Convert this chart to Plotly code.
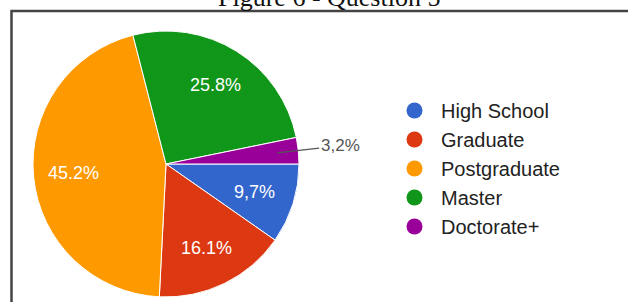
import math
import plotly.graph_objects as go

W, H = 628, 302

categories = ["High School", "Graduate", "Postgraduate", "Master", "Doctorate+"]
values = [9.7, 16.1, 45.2, 25.8, 3.2]
value_labels = ["9,7%", "16.1%", "45.2%", "25.8%", "3,2%"]
colors = ["#3366CC", "#DC3912", "#FF9900", "#109618", "#990099"]
title_text = "Figure 6 - Question 5"

ROTATION = 90  # first slice starts at 3 o'clock, clockwise
# pie domain in pixels (left, right, top, bottom)
PL, PR, PT, PB = 32, 300, 31, 297

fig = go.Figure()
fig.add_trace(go.Pie(
    labels=categories,
    values=values,
    textinfo="none",
    marker=dict(colors=colors, line=dict(color="white", width=1)),
    sort=False,
    direction="clockwise",
    rotation=ROTATION,
    domain=dict(x=[PL / W, PR / W], y=[1 - PB / H, 1 - PT / H]),
    showlegend=False,
    hoverinfo="label+percent",
))

# legend with circle markers
for c, col in zip(categories, colors):
    fig.add_trace(go.Scatter(
        x=[None], y=[None], mode="markers", name=c,
        marker=dict(symbol="circle", size=18, color=col),
        legendgroup=c,
    ))

# slice value labels placed along each slice bisector (Google-Charts style)
cx, cy = (PL + PR) / 2, (PT + PB) / 2
r = min(PR - PL, PB - PT) / 2
total = sum(values)
start = ROTATION
for v, t in zip(values, value_labels):
    span = 360 * v / total
    mid = math.radians(start + span / 2)
    start += span
    dx, dy = math.sin(mid), -math.cos(mid)
    if v >= 5:
        fig.add_annotation(
            x=(cx + 0.70 * r * dx) / W, y=1 - (cy + 0.70 * r * dy) / H,
            xref="paper", yref="paper", xanchor="center", yanchor="middle",
            text=t, showarrow=False,
            font=dict(family="Liberation Sans, Arial", size=18, color="white"),
        )
    else:
        fig.add_annotation(
            x=(cx + 0.84 * r * dx) / W, y=1 - (cy + 0.84 * r * dy) / H,
            xref="paper", yref="paper",
            ax=63, ay=-7, axref="pixel", ayref="pixel",
            text=t, showarrow=True, arrowhead=0, arrowwidth=1.2,
            arrowcolor="#555555", standoff=0,
            font=dict(family="Liberation Sans, Arial", size=17, color="#555555"),
        )

# cropped figure caption
fig.add_annotation(
    x=329 / W, y=1, xref="paper", yref="paper", xanchor="center", yanchor="middle",
    yshift=3, text=title_text, showarrow=False,
    font=dict(family="Liberation Serif, Times New Roman", size=26, color="#111111"),
)

# frame
fig.add_shape(type="rect", xref="paper", yref="paper",
              x0=11.5 / W, x1=1.05, y0=-0.05, y1=1 - 11 / H,
              line=dict(color="#444444", width=2.5))

fig.update_layout(
    width=W, height=H,
    margin=dict(l=0, r=0, t=0, b=0),
    paper_bgcolor="white", plot_bgcolor="white",
    xaxis=dict(visible=False), yaxis=dict(visible=False),
    legend=dict(
        x=388 / W, y=1 - 91 / H, xanchor="left", yanchor="top",
        font=dict(family="Liberation Sans, Arial", size=20, color="#222222"),
        tracegroupgap=0, itemsizing="trace", itemwidth=43,
        bgcolor="rgba(0,0,0,0)",
    ),
)

fig.write_html(
    "out.html",
    config={"displayModeBar": False},
    post_script="document.body.style.margin='0';document.body.style.overflow='hidden';",
)
